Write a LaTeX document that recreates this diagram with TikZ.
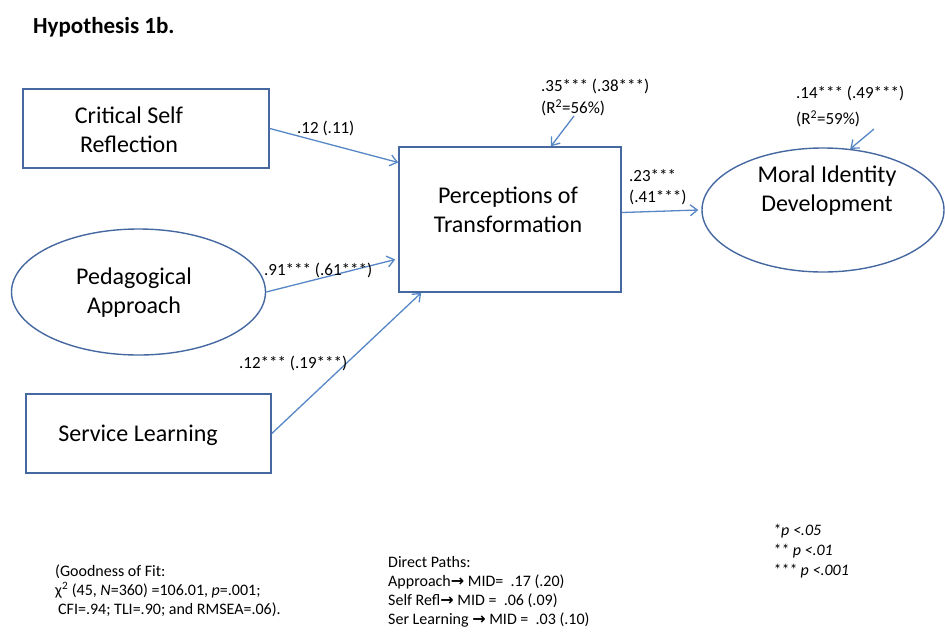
\documentclass[tikz,border=0pt]{standalone}
\usepackage{fontspec}
\setmainfont{Carlito}
\newfontfamily\flechas{DejaVu Sans}
\usetikzlibrary{arrows.meta,shapes.geometric}

\definecolor{borde}{RGB}{70,104,160}
\definecolor{flecha}{RGB}{86,134,198}

\tikzset{
  caja/.style={draw=borde, line width=1.6pt, rectangle, inner sep=0pt},
  elipse/.style={draw=borde, line width=1.4pt, ellipse, inner sep=0pt},
  texto/.style={align=center, inner sep=0pt, font=\fontsize{24}{29}\selectfont},
  coef/.style={anchor=west, inner sep=0pt, font=\fontsize{17}{21}\selectfont},
  nota/.style={anchor=north west, align=left, inner sep=0pt, font=\fontsize{16}{19}\selectfont},
  camino/.style={->, draw=flecha, line width=1.3pt}
}

\begin{document}
\begin{tikzpicture}[x=1pt, y=-1pt, >={Straight Barb[length=7pt,width=11pt]}]
  \useasboundingbox (0,0) rectangle (945,633);

  %——————————————————————————————————————————————
  % Titulo
  %——————————————————————————————————————————————
  \node[anchor=west, inner sep=0pt, font=\fontsize{23}{27}\selectfont\bfseries] (titulo) at (33,27) {Hypothesis 1b.};

  %——————————————————————————————————————————————
  % Variables: cajas y elipses
  %——————————————————————————————————————————————
  \node[caja, minimum width=246pt, minimum height=79pt] (csr) at (146,128.5) {};
  \node[texto] (csrtxt) at (129,130) {Critical Self\\Reflection};

  \node[elipse, minimum width=254pt, minimum height=126pt] (pa) at (138.5,292) {};
  \node[texto] (patxt) at (134,293) {Pedagogical\\Approach};

  \node[caja, minimum width=245pt, minimum height=79pt] (sl) at (148.5,433.5) {};
  \node[texto] (sltxt) at (138,435) {Service Learning};

  \node[caja, minimum width=222pt, minimum height=145pt] (pt) at (510,219.5) {};
  \node[texto] (pttxt) at (508,210) {Perceptions of\\Transformation};

  \node[elipse, minimum width=242pt, minimum height=124pt] (mid) at (823,210) {};
  \node[texto] (midtxt) at (827,191) {Moral Identity\\Development};

  %——————————————————————————————————————————————
  % Caminos entre variables
  %——————————————————————————————————————————————
  \draw[camino] (csr.east) -- ([yshift=57pt]pt.west);
  \draw[camino] (pa.east) -- ([xshift=-3pt,yshift=-40pt]pt.west);
  \draw[camino] (sl.east) -- ([xshift=23pt]pt.south west);
  \draw[camino] ([yshift=7pt]pt.east) -- ([xshift=-3pt]mid.west);

  % Errores (residuos)
  \coordinate (e1) at (574,116);
  \coordinate (e2) at (874,129);
  \draw[camino] (e1) -- ([xshift=41pt]pt.north);
  \draw[camino] (e2) -- (mid.66);

  %——————————————————————————————————————————————
  % Coeficientes
  %——————————————————————————————————————————————
  \node[coef] (c1) at (297,128) {.12 (.11)};
  \node[coef] (c2) at (264,270) {.91*** (.61***)};
  \node[coef] (c3) at (239,363) {.12*** (.19***)};
  \node[coef] (c4) at (629,176) {.23***};
  \node[coef] (c5) at (629,197) {(.41***)};
  \node[coef] (r1) at (541,86) {.35*** (.38***)};
  \node[coef] (r2) at (541,108) {(R\textsuperscript{2}=56\%)};
  \node[coef] (r3) at (796,93) {.14*** (.49***)};
  \node[coef] (r4) at (796,119) {(R\textsuperscript{2}=59\%)};

  %——————————————————————————————————————————————
  % Notas al pie
  %——————————————————————————————————————————————
  \node[nota] (ajuste) at (55,565) {(Goodness of Fit:\\
    χ\textsuperscript{2} (45, \textit{N}=360) =106.01, \textit{p}=.001;\\
    \hspace*{3pt}CFI=.94; TLI=.90; and RMSEA=.06).};
  \node[nota] (directos) at (388,556) {Direct Paths:\\
    Approach{\flechas\bfseries →} MID=\ \ .17 (.20)\\
    Self Refl{\flechas\bfseries →} MID = \ .06 (.09)\\
    Ser Learning {\flechas\bfseries →} MID = \ .03 (.10)};
  \node[nota, font=\fontsize{16}{20}\selectfont\itshape] (signif) at (773,524) {*p <.05\\
    ** p <.01\\
    *** p <.001};
\end{tikzpicture}
\end{document}
